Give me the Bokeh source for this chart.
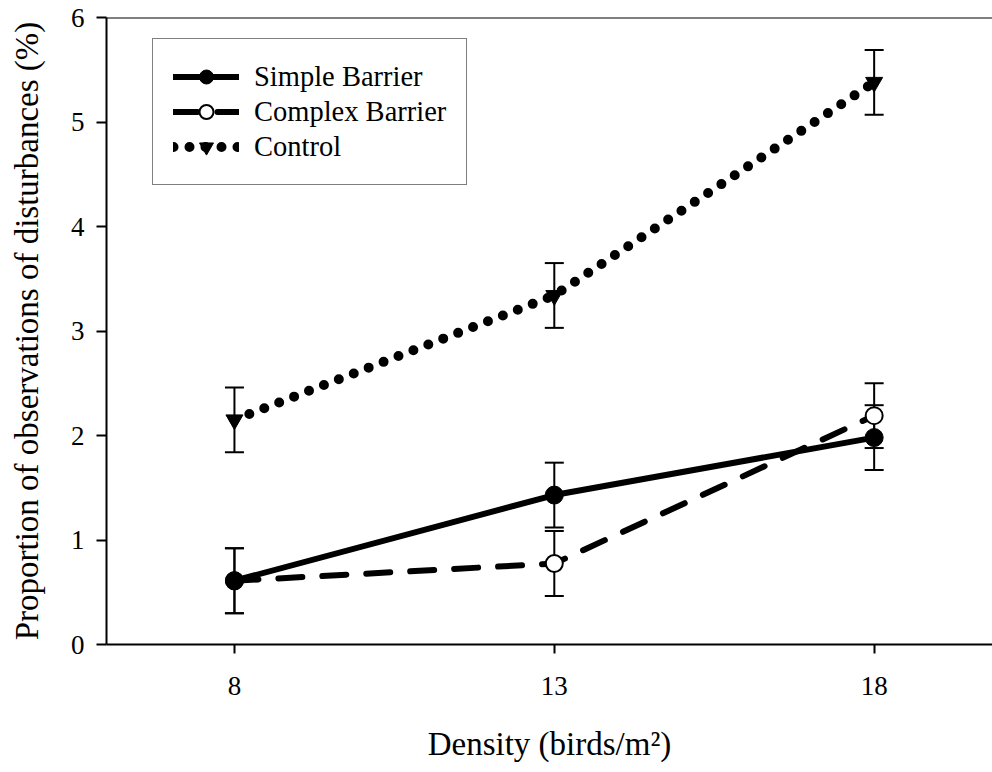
from bokeh.plotting import figure
from bokeh.models import (ColumnDataSource, Whisker, TeeHead, Legend, LegendItem,
                          FixedTicker, Range1d, Span)
from bokeh.embed import file_html
from bokeh.resources import INLINE

# ---- data ----
density = [8, 13, 18]
simple_mean = [0.61, 1.43, 1.98]
simple_se = [0.31, 0.31, 0.31]
complex_mean = [0.61, 0.775, 2.19]
complex_se = [0.31, 0.31, 0.31]
control_mean = [2.15, 3.34, 5.38]
control_se = [0.31, 0.31, 0.31]
x_ticks = [8, 13, 18]
y_ticks = [0, 1, 2, 3, 4, 5, 6]
labels = ["Simple Barrier", "Complex Barrier", "Control"]

FONT = '"Liberation Serif"'

p = figure(width=992, height=772, output_backend="svg", toolbar_location=None,
           x_range=Range1d(6, 19.85), y_range=Range1d(0, 6),
           min_border_left=106, min_border_right=0, min_border_top=17,
           min_border_bottom=128)
p.outline_line_color = None
p.grid.visible = False
p.background_fill_color = "white"
p.border_fill_color = "white"

def src(mean, se):
    return ColumnDataSource(dict(
        x=density, y=mean,
        upper=[m + s for m, s in zip(mean, se)],
        lower=[m - s for m, s in zip(mean, se)]))

s_simple = src(simple_mean, simple_se)
s_complex = src(complex_mean, complex_se)
s_control = src(control_mean, control_se)

# error bars (below lines and markers)
for s in (s_simple, s_complex, s_control):
    w = Whisker(source=s, base="x", upper="upper", lower="lower",
                line_color="black", line_width=2, level="underlay",
                upper_head=TeeHead(size=19, line_width=2, line_color="black"),
                lower_head=TeeHead(size=19, line_width=2, line_color="black"))
    p.add_layout(w)

# lines
l_control = p.line("x", "y", source=s_control, line_color="black", line_width=10,
                   line_dash="0 16", line_cap="round")
l_complex = p.line("x", "y", source=s_complex, line_color="black", line_width=6,
                   line_dash="24 20", line_cap="round")
l_simple = p.line("x", "y", source=s_simple, line_color="black", line_width=6,
                  line_cap="round")

# markers
m_control = p.scatter("x", "y", source=s_control, marker="inverted_triangle", size=17,
                      fill_color="black", line_color="black")
m_complex = p.scatter("x", "y", source=s_complex, marker="circle", size=17,
                      fill_color="white", line_color="black", line_width=2)
m_simple = p.scatter("x", "y", source=s_simple, marker="circle", size=18,
                     fill_color="black", line_color="black")

# top frame line
p.add_layout(Span(location=6, dimension="width", line_color="black", line_width=2))

# axes
for ax in (p.xaxis[0], p.yaxis[0]):
    ax.axis_line_width = 2
    ax.major_tick_line_width = 2
    ax.minor_tick_line_color = None
    ax.major_tick_in = 0
    ax.major_label_text_font = FONT
    ax.major_label_text_font_size = "27px"
    ax.major_label_text_color = "black"
    ax.axis_label_text_font = FONT
    ax.axis_label_text_font_size = "33px"
    ax.axis_label_text_font_style = "normal"
    ax.axis_label_text_color = "black"

p.xaxis[0].ticker = FixedTicker(ticks=x_ticks)
p.yaxis[0].ticker = FixedTicker(ticks=y_ticks)
p.xaxis[0].major_tick_out = 9
p.yaxis[0].major_tick_out = 10
p.xaxis[0].major_label_standoff = 23
p.yaxis[0].major_label_standoff = 12
p.xaxis[0].axis_label = "Density (birds/m²)"
p.yaxis[0].axis_label = "Proportion of observations of disturbances (%)"
p.xaxis[0].axis_label_standoff = 28
p.yaxis[0].axis_label_standoff = 23

legend = Legend(items=[
    LegendItem(label=labels[0], renderers=[l_simple, m_simple]),
    LegendItem(label=labels[1], renderers=[l_complex, m_complex]),
    LegendItem(label=labels[2], renderers=[l_control, m_control]),
], location=(46, 459))
legend.padding = 20
legend.glyph_width = 66
legend.glyph_height = 35
legend.label_height = 35
legend.spacing = 0
legend.label_standoff = 15
legend.label_text_font = FONT
legend.label_text_font_size = "28.5px"
legend.label_text_color = "black"
legend.border_line_color = "black"
legend.border_line_width = 1.5
legend.background_fill_color = "white"
legend.background_fill_alpha = 1
legend.margin = 0
p.add_layout(legend)

open("out.html", "w").write(file_html(p, INLINE))
